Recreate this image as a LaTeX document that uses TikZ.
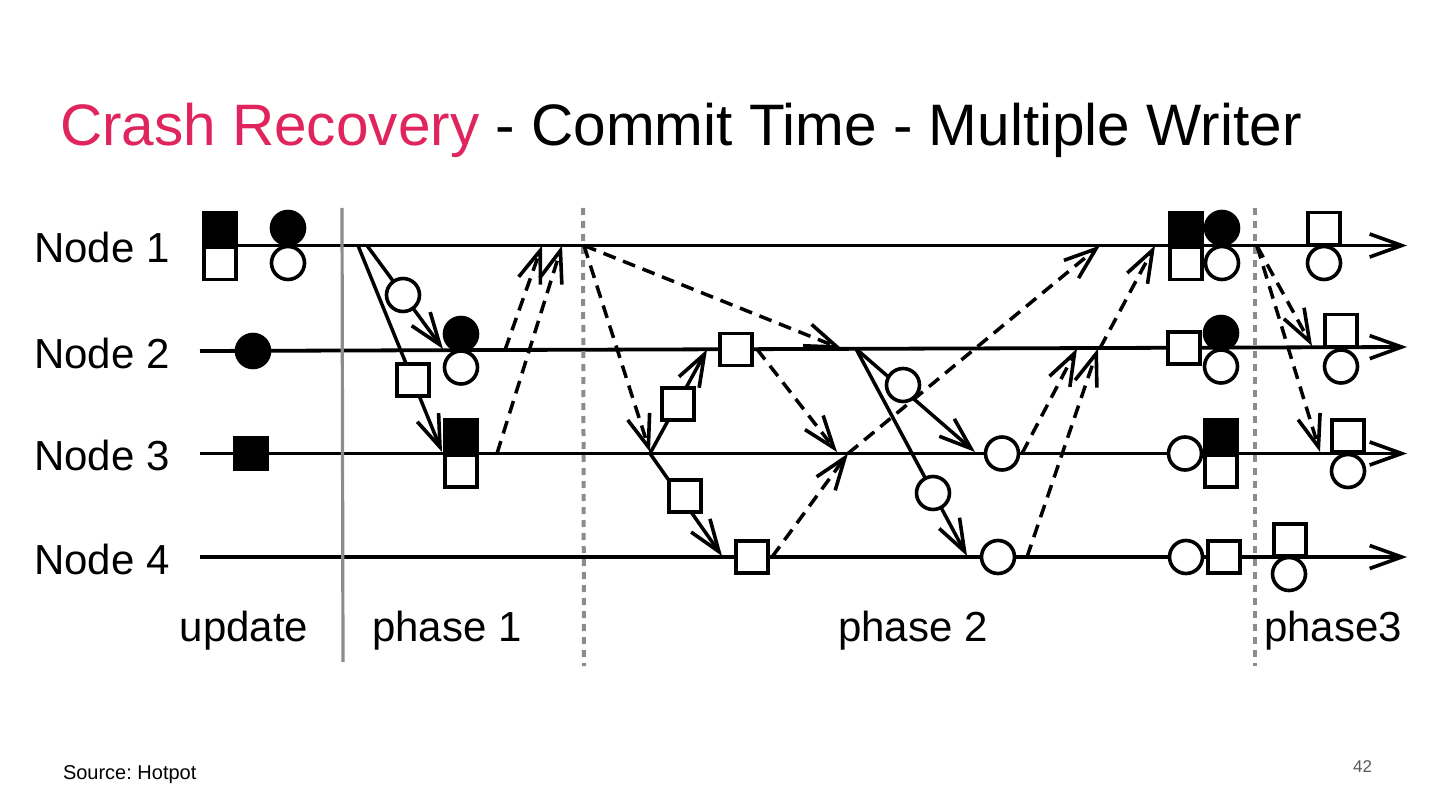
\documentclass[tikz,border=0pt]{standalone}
\usepackage{fontspec}
\setmainfont{Liberation Sans}
\usetikzlibrary{arrows.meta}
\definecolor{crimson}{HTML}{E0245E}
\definecolor{divgray}{HTML}{8C8C8C}
\definecolor{pagegray}{HTML}{595959}
\begin{document}
\frenchspacing
\begin{tikzpicture}[x=1pt,y=-1pt,
  every node/.style={inner sep=0pt, outer sep=0pt},
  barb/.tip={Straight Barb[length=32pt,width=23pt,line width=3.6pt]},
  timeline/.style={line width=3.8pt, -barb},
  solidmsg/.style={line width=3.5pt, -barb},
  dashmsg/.style={line width=3.5pt, dash pattern=on 13pt off 8pt, -barb},
  divsolid/.style={line width=3.2pt, divgray},
  divdot/.style={line width=4pt, divgray, dash pattern=on 7pt off 6pt},
  sqo/.style={draw, line width=3.6pt, fill=white, minimum size=32pt},
  sqf/.style={draw, line width=3.6pt, fill=black, minimum size=32pt},
  cio/.style={circle, draw, line width=3.6pt, fill=white, minimum size=33pt},
  cif/.style={circle, draw, line width=3.6pt, fill=black, minimum size=33pt},
  lbl/.style={font=\fontsize{42}{46}\selectfont, anchor=base west},
  plbl/.style={font=\fontsize{42}{46}\selectfont, anchor=base},
]
\fill[white] (0,0) rectangle (1440,810);
\useasboundingbox (0,0) rectangle (1440,810);

% title and footer
\node[anchor=base west, font=\fontsize{58.5}{62}\selectfont] (title) at (60,146)
  {{\color{crimson}Crash Recovery} - Commit Time - Multiple Writer};
\node[anchor=base west, font=\fontsize{20}{22}\selectfont] (src) at (63,779) {Source: Hotpot};
\node[anchor=base east, font=\fontsize{17}{19}\selectfont, text=pagegray] (pg) at (1372,772) {42};

% labels
\node[lbl] (n1) at (34,263) {Node 1};
\node[lbl] (n2) at (34,368) {Node 2};
\node[lbl] (n3) at (34,470) {Node 3};
\node[lbl] (n4) at (34,574) {Node 4};
\node[plbl] (lu) at (244,641) {update};
\node[plbl] (lp1) at (447,641) {phase 1};
\node[plbl] (lp2) at (913,641) {phase 2};
\node[plbl] (lp3) at (1333,641) {phase3};

% timelines
\coordinate (l1s) at (203,245.5); \coordinate (l1e) at (1407,245.5);
\coordinate (l2s) at (200,351);   \coordinate (l2e) at (1407,347);
\coordinate (l3s) at (200,453.5); \coordinate (l3e) at (1407,453.5);
\coordinate (l4s) at (200,557);   \coordinate (l4e) at (1407,557);
\draw[timeline] (l1s) -- (l1e);
\draw[timeline] (l2s) -- (l2e);
\draw[timeline] (l3s) -- (l3e);
\draw[timeline] (l4s) -- (l4e);

% dividers
\coordinate (v0t) at (342,208); \coordinate (v0b) at (343,662);
\coordinate (v1t) at (583,208); \coordinate (v1b) at (584,666);
\coordinate (v2t) at (1255,208); \coordinate (v2b) at (1255,666);
\draw[divsolid] (v0t) -- (v0b);
\draw[divdot] (v1t) -- (v1b);
\draw[divdot] (v2t) -- (v2b);

% phase 1 connectors
\coordinate (a1) at (367,245.5); \coordinate (a1e) at (443,349);
\coordinate (a2) at (358,245.5); \coordinate (a2e) at (442,452);
\coordinate (b1) at (505,350);   \coordinate (b1e) at (542,245.5);
\coordinate (b2) at (497,453.5); \coordinate (b2e) at (562,245.5);
\draw[solidmsg] (a1) -- (a1e);
\draw[solidmsg] (a2) -- (a2e);
\draw[dashmsg] (b1) -- (b1e);
\draw[dashmsg] (b2) -- (b2e);

% phase 2 connectors
\coordinate (p2o) at (584,245.5);
\coordinate (d3e) at (842,349);
\coordinate (d4e) at (650,452);
\coordinate (q3) at (650,453.5);
\coordinate (c3e) at (707,349.5);
\coordinate (c4e) at (722,556);
\coordinate (d5s) at (757,349.2); \coordinate (d5e) at (837,452);
\coordinate (d6s) at (772,557);   \coordinate (d6e) at (848,453.5);
\coordinate (d7s) at (848,453.5); \coordinate (d7e) at (1100,245.5);
\coordinate (r2) at (856,348.8);
\coordinate (c5e) at (975,452);
\coordinate (c6e) at (967,556);
\coordinate (d8s) at (1022,453.5); \coordinate (d8e) at (1077,348.5);
\coordinate (d9s) at (1027,557);   \coordinate (d9e) at (1098,348.5);
\coordinate (d10s) at (1100,348.2); \coordinate (d10e) at (1155,245.5);
\draw[dashmsg] (p2o) -- (d3e);
\draw[dashmsg] (p2o) -- (d4e);
\draw[solidmsg] (q3) -- (c3e);
\draw[solidmsg] (q3) -- (c4e);
\draw[dashmsg] (d5s) -- (d5e);
\draw[dashmsg] (d6s) -- (d6e);
\draw[dashmsg] (d7s) -- (d7e);
\draw[solidmsg] (r2) -- (c5e);
\draw[solidmsg] (r2) -- (c6e);
\draw[dashmsg] (d8s) -- (d8e);
\draw[dashmsg] (d9s) -- (d9e);
\draw[dashmsg] (d10s) -- (d10e);

% phase 3 connectors
\coordinate (p3o) at (1257,246);
\coordinate (d11e) at (1312,346);
\coordinate (d12e) at (1320,452);
\draw[dashmsg] (p3o) -- (d11e);
\draw[dashmsg] (p3o) -- (d12e);

% update markers
\node[sqf] (u1a) at (220,228.5) {};
\node[sqo] (u1b) at (220,263.5) {};
\node[cif] (u1c) at (288,228) {};
\node[cio] (u1d) at (288,263) {};
\node[cif] (u2a) at (253,351) {};
\node[sqf] (u3a) at (251,453.5) {};

% phase 1 markers
\node[cio] (m1) at (403,295) {};
\node[sqo] (m2) at (413,380) {};
\node[cif] (p12a) at (461,334) {};
\node[cio] (p12b) at (461,367.5) {};
\node[sqf] (p13a) at (461,436) {};
\node[sqo] (p13b) at (461,471) {};

% phase 2 markers
\node[sqo] (m3) at (678,404) {};
\node[sqo] (m4) at (685,496) {};
\node[sqo] (p22) at (736,349.5) {};
\node[sqo] (p24) at (752,557) {};
\node[cio] (m5) at (903,385) {};
\node[cio] (m6) at (933,493) {};
\node[cio] (p23) at (1002,453.5) {};
\node[cio] (p24b) at (998,557) {};

% commit markers
\node[sqf] (k1a) at (1186,228.5) {};
\node[sqo] (k1b) at (1186,263.5) {};
\node[cif] (k1c) at (1222,228) {};
\node[cio] (k1d) at (1222,263) {};
\node[sqo] (k2a) at (1184,347.7) {};
\node[cif] (k2b) at (1221,333) {};
\node[cio] (k2c) at (1221,366.5) {};
\node[cio] (k3a) at (1185,453.5) {};
\node[sqf] (k3b) at (1221,436) {};
\node[sqo] (k3c) at (1221,471) {};
\node[cio] (k4a) at (1186,557) {};
\node[sqo] (k4b) at (1224,557) {};

% phase 3 markers
\node[sqo] (t1a) at (1324,228.5) {};
\node[cio] (t1b) at (1324,263) {};
\node[sqo] (t2a) at (1341,330.5) {};
\node[cio] (t2b) at (1341,366.5) {};
\node[sqo] (t3a) at (1348,436) {};
\node[cio] (t3b) at (1348,471) {};
\node[sqo] (t4a) at (1290,540) {};
\node[cio] (t4b) at (1289,574) {};
\end{tikzpicture}
\end{document}
